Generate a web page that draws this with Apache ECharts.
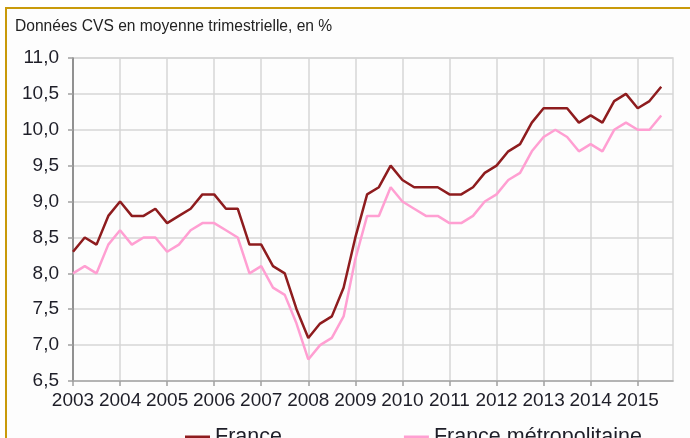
<!DOCTYPE html>
<html>
<head>
<meta charset="utf-8">
<script src="https://cdn.jsdelivr.net/npm/echarts@6/dist/echarts.min.js"></script>
<style>
  html, body { margin: 0; padding: 0; background: #ffffff; }
  #frame { position: absolute; left: 5px; top: 7px; width: 700px; height: 440px;
           border-top: 2px solid #c99a0a; border-left: 2px solid #c99a0a; background: #fdfdfd; }
  #chart { position: absolute; left: 0; top: 0; width: 690px; height: 438px; }
</style>
</head>
<body>
<div id="frame"></div>
<div id="chart"></div>
<script>
// années affichées sur l'axe (un trimestre par point)
var years = [2003, 2004, 2005, 2006, 2007, 2008, 2009, 2010, 2011, 2012, 2013, 2014, 2015];

// taux de chômage, France
var france = [
  8.3, 8.5, 8.4, 8.8,
  9.0, 8.8, 8.8, 8.9,
  8.7, 8.8, 8.9, 9.1,
  9.1, 8.9, 8.9, 8.4,
  8.4, 8.1, 8.0, 7.5,
  7.1, 7.3, 7.4, 7.8,
  8.5, 9.1, 9.2, 9.5,
  9.3, 9.2, 9.2, 9.2,
  9.1, 9.1, 9.2, 9.4,
  9.5, 9.7, 9.8, 10.1,
  10.3, 10.3, 10.3, 10.1,
  10.2, 10.1, 10.4, 10.5,
  10.3, 10.4, 10.6
];

// taux de chômage, France métropolitaine
var metro = [
  8.0, 8.1, 8.0, 8.4,
  8.6, 8.4, 8.5, 8.5,
  8.3, 8.4, 8.6, 8.7,
  8.7, 8.6, 8.5, 8.0,
  8.1, 7.8, 7.7, 7.3,
  6.8, 7.0, 7.1, 7.4,
  8.2, 8.8, 8.8, 9.2,
  9.0, 8.9, 8.8, 8.8,
  8.7, 8.7, 8.8, 9.0,
  9.1, 9.3, 9.4, 9.7,
  9.9, 10.0, 9.9, 9.7,
  9.8, 9.7, 10.0, 10.1,
  10.0, 10.0, 10.2
];

var quarters = [];
years.forEach(function (y) {
  for (var q = 1; q <= 4; q++) quarters.push(y + 'T' + q);
});

var yearTick = function (idx) { return idx % 4 === 0; };
var txt = '#1e1e28';

var myChart = echarts.init(document.getElementById('chart'));
var option = {
  animation: false,
  title: {
    text: 'Données CVS en moyenne trimestrielle, en %',
    left: 10,
    top: 14,
    textStyle: { fontFamily: 'Liberation Sans, Arial', fontSize: 15.6, fontWeight: 'normal', color: '#222' }
  },
  grid: {
    left: 73, right: 17, top: 58, bottom: 57,
    show: true, borderColor: '#d6d6d6', borderWidth: 1.5
  },
  legend: {
    left: 180,
    top: 421,
    itemGap: 122,
    itemWidth: 25,
    itemHeight: 3,
    icon: 'rect',
    textStyle: { fontFamily: 'Liberation Sans, Arial', fontSize: 21.5, color: txt },
    data: ['France', 'France métropolitaine']
  },
  xAxis: {
    type: 'category',
    boundaryGap: false,
    data: quarters,
    axisLine: { lineStyle: { color: '#a8a8a8', width: 1.5 } },
    axisTick: { interval: yearTick, length: 5, lineStyle: { color: '#a0a0a0', width: 1.5 } },
    splitLine: { show: true, interval: yearTick, lineStyle: { color: '#d6d6d6', width: 1.5 } },
    axisLabel: {
      interval: yearTick,
      margin: 10,
      fontFamily: 'Liberation Sans, Arial',
      fontSize: 19,
      color: txt,
      formatter: function (v) { return v.slice(0, 4); }
    }
  },
  yAxis: {
    type: 'value',
    min: 6.5,
    max: 11,
    interval: 0.5,
    axisLine: { show: true, lineStyle: { color: '#7a7a7a', width: 1.5 } },
    axisTick: { show: true, length: 5, lineStyle: { color: '#a0a0a0', width: 1.5 } },
    splitLine: { lineStyle: { color: '#d6d6d6', width: 1.5 } },
    axisLabel: {
      margin: 14,
      fontFamily: 'Liberation Sans, Arial',
      fontSize: 19,
      color: txt,
      formatter: function (v) { return v.toFixed(1).replace('.', ','); }
    }
  },
  series: [
    {
      name: 'France',
      type: 'line',
      data: france,
      symbol: 'none',
      color: '#8e1c1e',
      lineStyle: { width: 2.5, color: '#8e1c1e' }
    },
    {
      name: 'France métropolitaine',
      type: 'line',
      data: metro,
      symbol: 'none',
      color: '#ff9fd2',
      lineStyle: { width: 2.5, color: '#ff9fd2' }
    }
  ]
};
myChart.setOption(option);
</script>
</body>
</html>
